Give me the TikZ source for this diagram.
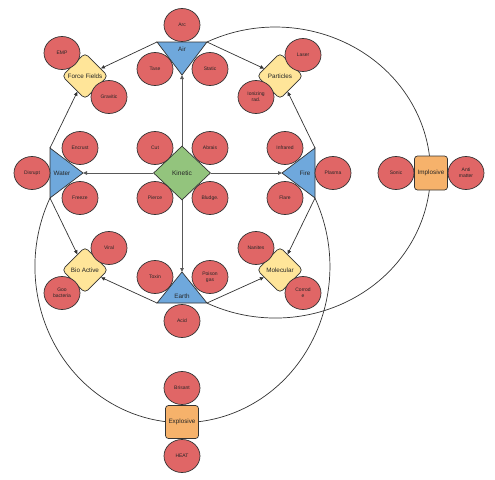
\documentclass[tikz,border=0pt]{standalone}
\usepackage{fontspec}
\setmainfont{Liberation Sans}
\usetikzlibrary{shapes.geometric,arrows.meta}
\definecolor{cred}{HTML}{E06666}
\definecolor{cblue}{HTML}{6FA8DC}
\definecolor{cyel}{HTML}{FFE599}
\definecolor{cgreen}{HTML}{93C47D}
\definecolor{corange}{HTML}{F6B26B}
\definecolor{cline}{HTML}{333333}
\pgfdeclarelayer{bg}
\pgfsetlayers{bg,main}
\tikzset{
  bubble/.style={ellipse, draw=cline, fill=cred, line width=0.7pt, minimum width=36pt, minimum height=33pt, inner sep=0pt, align=center, font=\fontsize{5}{5.8}\selectfont, text=black!85},
  rdiam/.style={diamond, draw=cline, fill=cyel, line width=0.7pt, rounded corners=4pt, minimum width=46pt, minimum height=46pt, inner sep=0pt, font=\fontsize{6.3}{7}\selectfont, text=black!85},
  kdiam/.style={diamond, draw=cline, fill=cgreen, line width=0.7pt, minimum width=57pt, minimum height=54pt, inner sep=0pt, font=\fontsize{6.6}{7}\selectfont, text=black!85},
  obox/.style={rectangle, draw=cline, fill=corange, rounded corners=3pt, line width=0.7pt, minimum width=33pt, minimum height=34pt, inner sep=0pt, font=\fontsize{6.3}{7}\selectfont, text=black!85},
  tri/.style={draw=cline, fill=cblue, line width=0.7pt},
  lbl/.style={font=\fontsize{6.3}{7}\selectfont, inner sep=0pt, text=black!85},
  arr/.style={draw=cline, line width=0.7pt, -{Triangle[length=4pt,width=3.5pt]}},
  karr/.style={draw=black!65, line width=1pt, -{Triangle[length=4pt,width=3.5pt]}},
  link/.style={draw=cline, line width=0.7pt},
}
\begin{document}
\begin{tikzpicture}[x=1pt,y=-1pt]
\useasboundingbox (0,0) rectangle (495,479);
% triangle corners
\coordinate (airL) at (157,42);
\coordinate (airR) at (207,42);
\coordinate (airA) at (182,75);
\coordinate (waterT) at (50,148);
\coordinate (waterB) at (50,198);
\coordinate (waterA) at (83,173);
\coordinate (fireT) at (315,148);
\coordinate (fireB) at (315,198);
\coordinate (fireA) at (282,173);
\coordinate (earthL) at (157,303);
\coordinate (earthR) at (207,303);
\coordinate (earthA) at (182,272);
% triangles
\filldraw[tri] (airL) -- (airR) -- (airA) -- cycle;
\filldraw[tri] (waterT) -- (waterB) -- (waterA) -- cycle;
\filldraw[tri] (fireT) -- (fireB) -- (fireA) -- cycle;
\filldraw[tri] (earthL) -- (earthR) -- (earthA) -- cycle;
\node[lbl] (air) at (182,49) {Air};
\node[lbl] (water) at (62,173) {Water};
\node[lbl] (fire) at (305,173) {Fire};
\node[lbl] (earth) at (182,296) {Earth};
% central and category nodes
\node[kdiam] (kin) at (182,173) {Kinetic};
\node[rdiam] (ff) at (85,76) {Force Fields};
\node[rdiam] (part) at (280,76) {Particles};
\node[rdiam] (bio) at (85,270) {Bio Active};
\node[rdiam] (mol) at (280,270) {Molecular};
\node[obox] (impl) at (431,173) {Implosive};
\node[obox, minimum height=33pt] (expl) at (182,422) {Explosive};
% bubbles
\node[bubble] (arc) at (182,25) {Arc};
\node[bubble] (tase) at (155,69) {Tase};
\node[bubble] (static) at (210,69) {Static};
\node[bubble] (emp) at (62,53) {EMP};
\node[bubble] (grav) at (109,97) {Gravitic};
\node[bubble] (laser) at (303,55) {Laser};
\node[bubble] (ion) at (256,97) {Ionizing\\rad.};
\node[bubble] (encrust) at (80,148) {Encrust};
\node[bubble] (freeze) at (80,198) {Freeze};
\node[bubble] (disrupt) at (32,173) {Disrupt};
\node[bubble] (cut) at (155,148) {Cut};
\node[bubble] (abrais) at (210,148) {Abrais};
\node[bubble] (pierce) at (155,198) {Pierce};
\node[bubble] (bludge) at (210,198) {Bludge.};
\node[bubble] (infra) at (285,148) {Infrared};
\node[bubble] (flare) at (285,198) {Flare};
\node[bubble] (plasma) at (333,173) {Plasma};
\node[bubble] (sonic) at (396,173) {Sonic};
\node[bubble] (anti) at (466,173) {Anti\\matter};
\node[bubble] (viral) at (109,248) {Viral};
\node[bubble] (goo) at (62,293) {Goo\\bacteria};
\node[bubble] (toxin) at (155,277) {Toxin};
\node[bubble] (poison) at (210,277) {Poison\\gas};
\node[bubble] (acid) at (182,321) {Acid};
\node[bubble] (nan) at (256,248) {Nanites};
\node[bubble] (corr) at (303,293) {Corrod\\e};
\node[bubble] (bris) at (182,388) {Brisant};
\node[bubble] (heat) at (182,456) {HEAT};
% connectors
\begin{pgfonlayer}{bg}
\draw[link] (airR) arc[start angle=116.2, end angle=-116.2, x radius=155pt, y radius=145.5pt];
\draw[link] (waterB) arc[start angle=153.9, end angle=386.1, x radius=147.5pt, y radius=156pt];
\draw[karr] (kin) -- (airA);
\draw[karr] (kin) -- (waterA);
\draw[karr] (kin) -- (fireA);
\draw[karr] (kin) -- (earthA);
\draw[arr] (airL) -- (ff);
\draw[arr] (airR) -- (part);
\draw[arr] (waterT) -- (ff);
\draw[arr] (waterB) -- (bio);
\draw[arr] (fireT) -- (part);
\draw[arr] (fireB) -- (mol);
\draw[arr] (earthL) -- (bio);
\draw[arr] (earthR) -- (mol);
\end{pgfonlayer}
\end{tikzpicture}
\end{document}
